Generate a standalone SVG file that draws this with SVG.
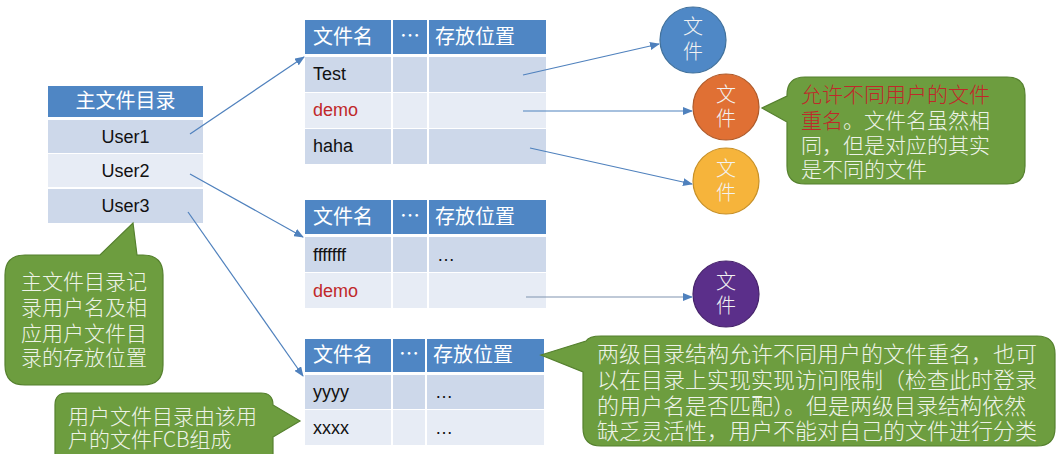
<svg xmlns="http://www.w3.org/2000/svg" width="1057" height="454" viewBox="0 0 1057 454">
<style>
.hd{fill:#4f86c4}
.rd{fill:#cdd8ea}
.rl{fill:#e7ecf5}
.sep{stroke:#ffffff;stroke-width:2}
.ht{font-family:"Noto Sans CJK SC",sans-serif;font-size:20px;fill:#ffffff}
.ct{font-family:"Liberation Sans",Arial,sans-serif;font-size:18px;fill:#111111}
.red{fill:#c0282a}
.cl{fill:#6d9d3f;stroke:#55802e;stroke-width:1.2}
.clt{font-family:"Noto Sans CJK SC",sans-serif;font-size:21px;fill:#eef3e8;font-weight:300}
.ft{font-family:"Noto Sans CJK SC",sans-serif;font-size:20px;fill:#f2f2f2;text-anchor:middle;font-weight:300}
.ar{fill:none;stroke:#4f81bd;stroke-width:1.2;marker-end:url(#ah)}
</style>
<defs>
<marker id="ah" markerWidth="10" markerHeight="8" refX="9" refY="4" orient="auto" markerUnits="userSpaceOnUse">
<path d="M0,0 L10,4 L0,8 Z" fill="#4f81bd"/>
</marker>
</defs>
<rect width="1057" height="454" fill="#ffffff"/>

<g id="main-dir">
<rect class="hd" x="48" y="86" width="155" height="31"/>
<rect class="rd" x="48" y="120" width="155" height="33"/>
<rect class="rl" x="48" y="154" width="155" height="33"/>
<rect class="rd" x="48" y="189" width="155" height="34"/>
<text class="ht" x="125.500" y="108" text-anchor="middle">主文件目录</text>
<text class="ct" x="125.500" y="143" text-anchor="middle">User1</text>
<text class="ct" x="125.500" y="177" text-anchor="middle">User2</text>
<text class="ct" x="125.500" y="212" text-anchor="middle">User3</text>
</g>

<g id="user1-dir">
<rect class="hd" x="305" y="20" width="241" height="34"/>
<rect class="rd" x="305" y="57" width="241" height="35"/>
<rect class="rl" x="305" y="93" width="241" height="35"/>
<rect class="rd" x="305" y="129" width="241" height="35"/>
<line class="sep" x1="392" y1="20" x2="392" y2="164"/>
<line class="sep" x1="428" y1="20" x2="428" y2="164"/>
<text class="ht" x="313" y="44">文件名</text>
<text class="ht" x="410" y="43" text-anchor="middle">…</text>
<text class="ht" x="435" y="44">存放位置</text>
<text class="ct" x="313" y="80">Test</text>
<text class="ct red" x="313" y="116">demo</text>
<text class="ct" x="313" y="152">haha</text>
</g>

<g id="user2-dir">
<rect class="hd" x="305" y="200" width="241" height="34"/>
<rect class="rd" x="305" y="237" width="241" height="35"/>
<rect class="rl" x="305" y="273" width="241" height="35"/>
<line class="sep" x1="392" y1="200" x2="392" y2="308"/>
<line class="sep" x1="428" y1="200" x2="428" y2="308"/>
<text class="ht" x="313" y="224">文件名</text>
<text class="ht" x="410" y="223" text-anchor="middle">…</text>
<text class="ht" x="435" y="224">存放位置</text>
<text class="ct" x="313" y="261">fffffff</text>
<text class="ct" x="437" y="261">…</text>
<text class="ct red" x="313" y="297">demo</text>
</g>

<g id="user3-dir">
<rect class="hd" x="305" y="339" width="239" height="33"/>
<rect class="rd" x="305" y="375" width="239" height="34"/>
<rect class="rl" x="305" y="410" width="239" height="35"/>
<line class="sep" x1="392" y1="339" x2="392" y2="445"/>
<line class="sep" x1="426" y1="339" x2="426" y2="445"/>
<text class="ht" x="313" y="362">文件名</text>
<text class="ht" x="409" y="361" text-anchor="middle">…</text>
<text class="ht" x="433" y="362">存放位置</text>
<text class="ct" x="313" y="398">yyyy</text>
<text class="ct" x="435" y="398">…</text>
<text class="ct" x="313" y="434">xxxx</text>
<text class="ct" x="435" y="434">…</text>
</g>

<g id="file-blue">
<circle cx="693" cy="40" r="33" fill="#4f88c6" stroke="#41719c" stroke-width="1.2"/>
<text class="ft" x="693" y="34">文</text>
<text class="ft" x="693" y="59">件</text>
</g>
<g id="file-orange">
<circle cx="726" cy="107" r="33" fill="#e07034" stroke="#ae5a2a" stroke-width="1.2"/>
<text class="ft" x="726" y="102">文</text>
<text class="ft" x="726" y="126">件</text>
</g>
<g id="file-yellow">
<circle cx="726" cy="181" r="33" fill="#f6b43b" stroke="#c79027" stroke-width="1.2"/>
<text class="ft" x="726" y="176">文</text>
<text class="ft" x="726" y="200">件</text>
</g>
<g id="file-purple">
<circle cx="726" cy="294" r="33" fill="#5b2f8a" stroke="#46236b" stroke-width="1.2"/>
<text class="ft" x="726" y="289">文</text>
<text class="ft" x="726" y="313">件</text>
</g>

<g id="callout-rename">
<path class="cl" d="M805 77 H1007 Q1025 77 1025 95 V166 Q1025 184 1007 184 H805 Q787 184 787 166 V122 L762 108 L787 96 V95 Q787 77 805 77 Z"/>
<text class="clt" x="801" y="102"><tspan class="red" style="fill:#c0282a">允许不同用户的文件</tspan></text>
<text class="clt" x="801" y="128"><tspan style="fill:#c0282a">重名</tspan>。文件名虽然相</text>
<text class="clt" x="801" y="153">同，但是对应的其实</text>
<text class="clt" x="801" y="177">是不同的文件</text>
</g>

<g id="callout-main">
<path class="cl" d="M25 255 H100 L133 223 L137 255 H143 Q163 255 163 275 V365 Q163 385 143 385 H25 Q5 385 5 365 V275 Q5 255 25 255 Z"/>
<text class="clt" x="21" y="289">主文件目录记</text>
<text class="clt" x="21" y="315">录用户名及相</text>
<text class="clt" x="21" y="341">应用户文件目</text>
<text class="clt" x="21" y="365">录的存放位置</text>
</g>

<g id="callout-ufd">
<path class="cl" d="M67 393 H261 Q273 393 273 405 L300 421 L273 437 V470 H55 V405 Q55 393 67 393 Z"/>
<text class="clt" x="68" y="424">用户文件目录由该用</text>
<text class="clt" x="68" y="447">户的文件FCB组成</text>
</g>

<g id="callout-summary">
<path class="cl" d="M601 336 H1037 Q1055 336 1055 354 V428 Q1055 446 1037 446 H601 Q583 446 583 428 V372 L541 355 L586 341 Q589 336 601 336 Z"/>
<text class="clt" x="597" y="362" style="font-size:22px">两级目录结构允许不同用户的文件重名，也可</text>
<text class="clt" x="597" y="388" style="font-size:22px">以在目录上实现实现访问限制（检查此时登录</text>
<text class="clt" x="597" y="414" style="font-size:22px">的用户名是否匹配）。但是两级目录结构依然</text>
<text class="clt" x="597" y="439" style="font-size:22px">缺乏灵活性，用户不能对自己的文件进行分类</text>
</g>

<g id="connectors">
<line class="ar" x1="190" y1="134" x2="304" y2="57"/>
<line class="ar" x1="190" y1="174" x2="303" y2="237"/>
<line class="ar" x1="188" y1="212" x2="303" y2="376"/>
<line class="ar" x1="523" y1="75" x2="659" y2="44"/>
<line class="ar" x1="523" y1="111" x2="692" y2="111"/>
<line class="ar" x1="530" y1="148" x2="692" y2="184"/>
<line class="ar" x1="526" y1="297" x2="692" y2="297" style="stroke:#8094b0"/>
</g>
</svg>
